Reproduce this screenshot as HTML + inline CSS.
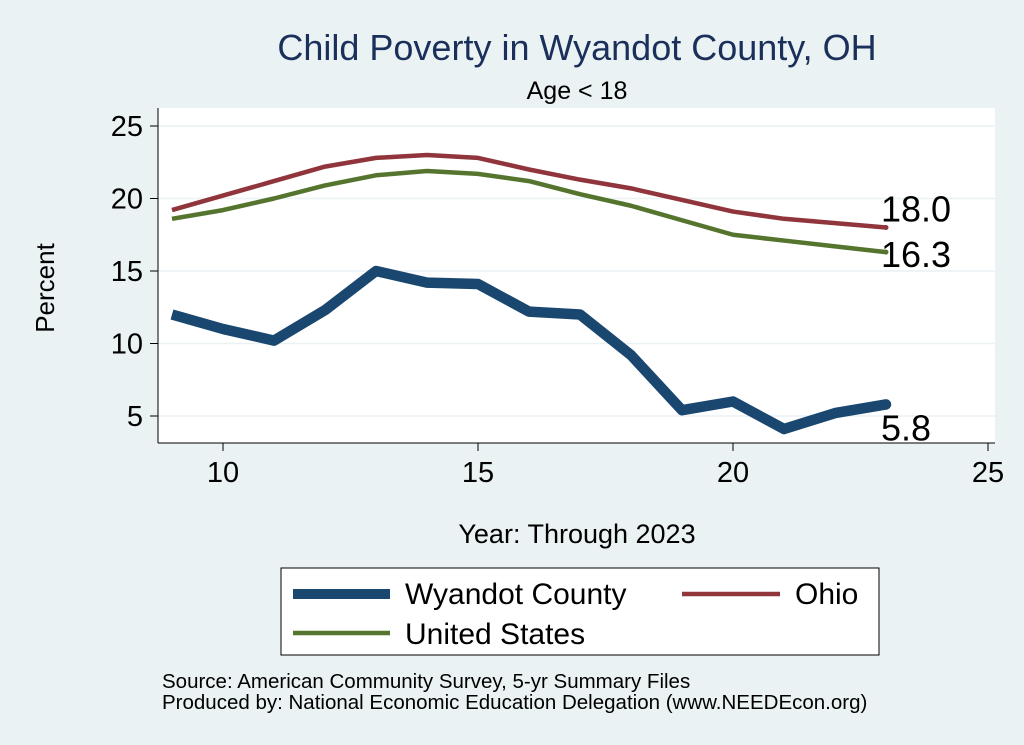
<!DOCTYPE html>
<html><head><meta charset="utf-8"><style>
body{margin:0;background:#eaf2f3;}
svg{display:block;font-family:"Liberation Sans",Arial,sans-serif;}
</style></head><body>
<svg id="chart" width="1024" height="745">
<rect x="0" y="0" width="1024" height="745" fill="#eaf2f3"/>
<rect x="158" y="108" width="837" height="335" fill="#ffffff"/>
<text x="577" y="60" font-size="36" fill="#1a2f5a" text-anchor="middle">Child Poverty in Wyandot County, OH</text>
<text x="577" y="99" font-size="25" fill="#000" text-anchor="middle">Age &lt; 18</text>
<text transform="translate(54,288) rotate(-90)" font-size="26" text-anchor="middle">Percent</text>
<text x="577" y="543" font-size="27" text-anchor="middle">Year: Through 2023</text>
<g id="grid"></g><g id="axes"></g><g id="series"></g>
<g>
<rect x="281" y="568" width="598" height="87" fill="#fff" stroke="#000" stroke-width="1"/>
<line x1="293" y1="594" x2="390" y2="594" stroke="#1a476f" stroke-width="10"/>
<text x="405" y="604" font-size="30">Wyandot County</text>
<line x1="682" y1="594" x2="780" y2="594" stroke="#90353b" stroke-width="4.5"/>
<text x="795" y="604" font-size="30">Ohio</text>
<line x1="293" y1="633" x2="390" y2="633" stroke="#55752f" stroke-width="4.5"/>
<text x="405" y="644" font-size="30">United States</text>
</g>
<text x="162" y="688" font-size="20.5">Source: American Community Survey, 5-yr Summary Files</text>
<text x="162" y="709" font-size="20.5">Produced by: National Economic Education Delegation (www.NEEDEcon.org)</text>
</svg>
<script>
const years=[9,10,11,12,13,14,15,16,17,18,19,20,21,22,23];
const wyandot=[12.0,11.0,10.2,12.3,15.0,14.2,14.1,12.2,12.0,9.2,5.4,6.0,4.1,5.2,5.8];
const ohio=[19.2,20.2,21.2,22.2,22.8,23.0,22.8,22.0,21.3,20.7,19.9,19.1,18.6,18.3,18.0];
const us=[18.6,19.2,20.0,20.9,21.6,21.9,21.7,21.2,20.3,19.5,18.5,17.5,17.1,16.7,16.3];
const xTicks=[10,15,20,25];
const yTicks=[5,10,15,20,25];
const NS="http://www.w3.org/2000/svg";
const xs=v=>223+(v-10)*51;
const ys=v=>416-(v-5)*14.5;
function mk(tag,attrs,parent){const e=document.createElementNS(NS,tag);for(const k in attrs)e.setAttribute(k,attrs[k]);parent.appendChild(e);return e;}
const grid=document.getElementById('grid'),axes=document.getElementById('axes'),ser=document.getElementById('series');
yTicks.forEach(t=>{
 const g=mk('line',{x1:158,x2:995,y1:ys(t),y2:ys(t),stroke:'#eaf2f3','stroke-width':1.5},grid);
 
 
 const tk=mk('line',{x1:150,x2:158,y1:ys(t),y2:ys(t),stroke:'#000'},axes);
 
 
 const lb=mk('text',{x:143,y:ys(t)+10,'font-size':29,'text-anchor':'end'},axes);lb.textContent=t;
 
 
});
xTicks.forEach(t=>{
 const tk=mk('line',{x1:xs(t),x2:xs(t),y1:443,y2:451,stroke:'#000'},axes);
 
 
 const lb=mk('text',{x:xs(t),y:482,'font-size':29,'text-anchor':'middle'},axes);lb.textContent=t;
 
 
});
const ax1=mk('line',{x1:158,x2:158,y1:108,y2:443,stroke:'#000'},axes);


const ax2=mk('line',{x1:158,x2:995,y1:443,y2:443,stroke:'#000'},axes);


function line(vals,color,w,name,labelDy){
 const d=vals.map((v,i)=>(i?'L':'M')+xs(years[i])+','+ys(v)).join(' ');
 const p=mk('path',{d:d,fill:'none',stroke:color,'stroke-width':w,'stroke-linejoin':'round'},ser);
 
 
 const n=vals.length-1;
 const c=mk('circle',{cx:xs(years[n]),cy:ys(vals[n]),r:Math.max(2.5,w/2),fill:color},ser);
 
 
 const t=mk('text',{x:xs(years[n])-5,y:ys(vals[n])+labelDy,'font-size':36},ser);
 t.textContent=vals[n].toFixed(1);
 
 
}
line(us,'#55752f',4.5,'us',15);
line(ohio,'#90353b',4.5,'ohio',-6);
line(wyandot,'#1a476f',10.5,'wyandot',36);
</script>
</body></html>
